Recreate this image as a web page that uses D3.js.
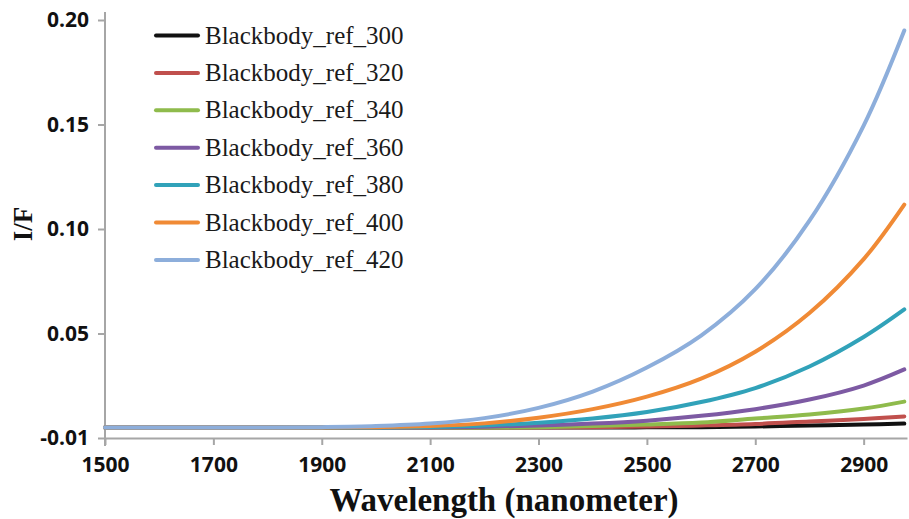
<!DOCTYPE html>
<html>
<head>
<meta charset="utf-8">
<script src="https://cdn.jsdelivr.net/npm/d3@7"></script>
<style>
    body { margin: 0; background: #fff; }
    svg { display: block; }
</style>
</head>
<body>
<svg id="chart" width="909" height="519"></svg>
<script>
const wavelengths = [1500, 1600, 1700, 1800, 1900, 2000, 2100, 2200, 2300, 2400, 2500, 2600, 2700, 2800, 2900, 2975];

const ref300 = [0, 0, 0, 0, 0, 0, 0, 0, 0, 0, 0.0001, 0.0002, 0.0005, 0.0010, 0.0014, 0.0019];
const ref320 = [0, 0, 0, 0, 0, 0, 0, 0, 0, 0.0002, 0.0005, 0.0010, 0.0017, 0.0029, 0.0041, 0.0053];
const ref340 = [0, 0, 0, 0, 0, 0, 0, 0, 0.0002, 0.0007, 0.0014, 0.0024, 0.0043, 0.0062, 0.0091, 0.0124];
const ref360 = [0, 0, 0, 0, 0, 0, 0, 0.0004, 0.0010, 0.0019, 0.0033, 0.0056, 0.0088, 0.0134, 0.0201, 0.0278];
const ref380 = [0, 0, 0, 0, 0, 0, 0.0003, 0.0010, 0.0023, 0.0043, 0.0074, 0.0122, 0.0189, 0.0292, 0.0433, 0.0565];
const ref400 = [0, 0, 0, 0, 0, 0.0002, 0.0007, 0.0020, 0.0047, 0.0088, 0.0148, 0.0234, 0.0363, 0.0548, 0.0806, 0.1067];
const ref420 = [0, 0, 0, 0, 0.0002, 0.0007, 0.0019, 0.0045, 0.0094, 0.0172, 0.0287, 0.0440, 0.0662, 0.0990, 0.1445, 0.1900];

const seriesNames = ['Blackbody_ref_300', 'Blackbody_ref_320', 'Blackbody_ref_340', 'Blackbody_ref_360',
    'Blackbody_ref_380', 'Blackbody_ref_400', 'Blackbody_ref_420'];
const seriesValues = [ref300, ref320, ref340, ref360, ref380, ref400, ref420];
const colors = ['#111111', '#c0504d', '#8fbb4c', '#7d5aa3', '#31a2b9', '#f08a35', '#8daedb'];

// axis min is -0.005 in the original, shown rounded to 2 decimals
const yTicks = [-0.005, 0.045, 0.095, 0.145, 0.195];
const yTickLabels = ['-0.01', '0.05', '0.10', '0.15', '0.20'];
const xTicks = [1500, 1700, 1900, 2100, 2300, 2500, 2700, 2900];

const svg = d3.select('#chart');
const axisColor = '#a6a6a6';

const x = d3.scaleLinear().domain([1500, 2980]).range([105, 907]);
const y = d3.scaleLinear().domain([-0.005, 0.195]).range([438, 20]);

// axes
const xAxis = svg.append('g')
    .attr('transform', 'translate(0,438)')
    .call(d3.axisBottom(x).tickValues(xTicks).tickFormat(d3.format('d'))
        .tickSize(7).tickSizeOuter(0).tickPadding(12));

const yAxis = svg.append('g')
    .attr('transform', 'translate(105,0)')
    .call(d3.axisLeft(y).tickValues(yTicks).tickFormat((d, i) => yTickLabels[i])
        .tickSize(7).tickSizeOuter(0).tickPadding(9));

[xAxis, yAxis].forEach(g => {
    g.select('.domain').attr('stroke', axisColor).attr('stroke-width', 2);
    g.selectAll('.tick line').attr('stroke', axisColor).attr('stroke-width', 2);
    g.selectAll('.tick text')
        .attr('fill', '#111')
        .style('font-family', '"Open Sans", sans-serif')
        .style('font-weight', 'bold')
        .style('font-size', '21px');
});
// y axis runs a little past the top tick like the original
yAxis.select('.domain').attr('d', 'M0,12V446');

// curves
const line = d3.line()
    .x((d, i) => x(wavelengths[i]))
    .y(d => y(d))
    .curve(d3.curveCatmullRom.alpha(0.5));

svg.append('g')
    .selectAll('path')
    .data(seriesValues)
    .enter()
    .append('path')
    .attr('d', d => line(d))
    .attr('fill', 'none')
    .attr('stroke', (d, i) => colors[i])
    .attr('stroke-width', 4)
    .attr('stroke-linecap', 'round');

// legend
const legend = svg.append('g')
    .selectAll('g')
    .data(seriesNames)
    .enter()
    .append('g')
    .attr('transform', (d, i) => `translate(0,${35.5 + i * 37.4})`);

legend.append('line')
    .attr('x1', 156).attr('x2', 198)
    .attr('stroke', (d, i) => colors[i])
    .attr('stroke-width', 4)
    .attr('stroke-linecap', 'round');

legend.append('text')
    .attr('x', 205)
    .attr('y', 8)
    .attr('fill', '#1a1a1a')
    .style('font-family', '"Liberation Serif", "Times New Roman", serif')
    .style('font-size', '25px')
    .text(d => d);

// axis titles
svg.append('text')
    .attr('x', 504)
    .attr('y', 511)
    .attr('text-anchor', 'middle')
    .attr('fill', '#111')
    .style('font-family', '"Liberation Serif", "Times New Roman", serif')
    .style('font-weight', 'bold')
    .style('font-size', '33px')
    .text('Wavelength (nanometer)');

svg.append('text')
    .attr('transform', 'translate(32,224) rotate(-90)')
    .attr('text-anchor', 'middle')
    .attr('fill', '#111')
    .style('font-family', '"Liberation Serif", "Times New Roman", serif')
    .style('font-weight', 'bold')
    .style('font-size', '27px')
    .text('I/F');
</script>
</body>
</html>
